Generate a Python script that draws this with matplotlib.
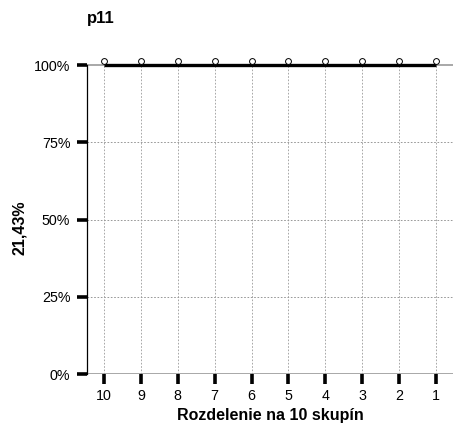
import matplotlib
matplotlib.use("Agg")
import matplotlib.pyplot as plt
import numpy as np

plt.rcParams["font.family"] = ["Liberation Sans", "DejaVu Sans"]

# data
groups = ["10", "9", "8", "7", "6", "5", "4", "3", "2", "1"]
line_values = [100, 100, 100, 100, 100, 100, 100, 100, 100, 100]
point_values = [101.3, 101.3, 101.3, 101.3, 101.3, 101.3, 101.3, 101.3, 101.3, 101.3]
y_ticks = [0, 25, 50, 75, 100]
y_labels = ["0%", "25%", "50%", "75%", "100%"]

fig = plt.figure(figsize=(4.53, 4.28), dpi=100)
ax = fig.add_axes([0.192, 0.126, 0.808, 0.7435])

x = np.arange(len(groups))

# grid
for yt in y_ticks[1:-1]:
    ax.axhline(yt, color="#888888", lw=0.6, ls=(0, (2, 2)), zorder=1)
for yt in (0, 100):
    ax.axhline(yt, color="#999999", lw=1.2, zorder=1)
for xi in x:
    ax.plot([xi, xi], [0, 100], color="#999999", lw=0.6, ls=(0, (2, 2)), zorder=1)

ax.plot(x, line_values, color="black", lw=2.4, solid_capstyle="butt", zorder=3)
ax.plot(x, point_values, ls="none", marker="o", ms=4.2, mfc="white",
        mec="black", mew=0.7, zorder=4)

ax.set_xlim(-0.46, len(groups) - 1 + 0.46)
ax.set_ylim(0, 103)

for s in ("top", "right", "bottom"):
    ax.spines[s].set_visible(False)
ax.spines["left"].set_bounds(0, 100)
ax.spines["left"].set_linewidth(0.9)

ax.set_xticks(x)
ax.set_xticklabels(groups, fontsize=10.3)
ax.set_yticks(y_ticks)
ax.set_yticklabels(y_labels, fontsize=10.3)
ax.tick_params(axis="both", length=7, width=2.6, color="black", direction="out")
ax.tick_params(axis="x", pad=3.5)
ax.tick_params(axis="y", pad=5)

ax.set_xlabel("Rozdelenie na 10 skupín", fontsize=11.5, fontweight="bold", labelpad=4)
fig.text(0.044, 0.467, "21,43%", fontsize=11.5, fontweight="bold",
         rotation=90, ha="center", va="center")

fig.text(0.192, 0.956, "p11", fontsize=12, fontweight="bold", ha="left", va="center")

fig.savefig("out.png", dpi=100)
